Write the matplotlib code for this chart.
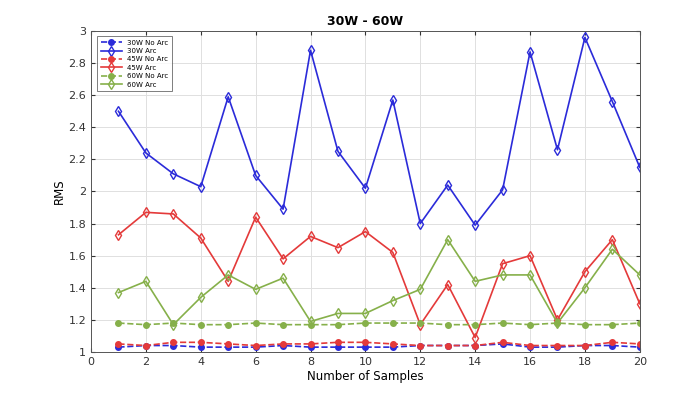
import matplotlib
matplotlib.use("Agg")
import matplotlib.pyplot as plt
import numpy as np

samples = np.arange(1, 21)

w30_no_arc = [1.03, 1.04, 1.04, 1.03, 1.03, 1.03, 1.04, 1.03, 1.03, 1.03,
              1.03, 1.04, 1.04, 1.04, 1.05, 1.03, 1.03, 1.04, 1.04, 1.03]
w30_arc = [2.50, 2.24, 2.11, 2.03, 2.59, 2.10, 1.89, 2.88, 2.25, 2.02,
           2.57, 1.80, 2.04, 1.79, 2.01, 2.87, 2.26, 2.96, 2.56, 2.15]
w45_no_arc = [1.05, 1.04, 1.06, 1.06, 1.05, 1.04, 1.05, 1.05, 1.06, 1.06,
              1.05, 1.04, 1.04, 1.04, 1.06, 1.04, 1.04, 1.04, 1.06, 1.05]
w45_arc = [1.73, 1.87, 1.86, 1.71, 1.44, 1.84, 1.58, 1.72, 1.65, 1.75,
           1.62, 1.17, 1.42, 1.09, 1.55, 1.60, 1.20, 1.50, 1.70, 1.30]
w60_no_arc = [1.18, 1.17, 1.18, 1.17, 1.17, 1.18, 1.17, 1.17, 1.17, 1.18,
              1.18, 1.18, 1.17, 1.17, 1.18, 1.17, 1.18, 1.17, 1.17, 1.18]
w60_arc = [1.37, 1.44, 1.17, 1.34, 1.48, 1.39, 1.46, 1.19, 1.24, 1.24,
           1.32, 1.39, 1.70, 1.44, 1.48, 1.48, 1.18, 1.40, 1.64, 1.48]

blue = "#2b2bd9"
red = "#e43a3a"
green = "#86b04a"

fig = plt.figure(figsize=(7, 3.95), dpi=100)
ax = fig.add_axes([0.13, 0.109, 0.784, 0.8125])

# sin arco: línea discontinua, marcador relleno
ax.plot(samples, w30_no_arc, "--o", color=blue, ms=4, lw=1.2, label="30W No Arc")
ax.plot(samples, w30_arc, "-d", color=blue, mfc="none", ms=5, lw=1.2, label="30W Arc")
ax.plot(samples, w45_no_arc, "--o", color=red, ms=4, lw=1.2, label="45W No Arc")
ax.plot(samples, w45_arc, "-d", color=red, mfc="none", ms=5, lw=1.2, label="45W Arc")
ax.plot(samples, w60_no_arc, "--o", color=green, ms=4, lw=1.2, label="60W No Arc")
ax.plot(samples, w60_arc, "-d", color=green, mfc="none", ms=5, lw=1.2, label="60W Arc")

ax.set_xlim(0, 20)
ax.set_ylim(1, 3)
ax.set_xticks(np.arange(0, 21, 2))
ax.set_yticks(np.arange(1, 3.01, 0.2))
ax.set_yticklabels(["1", "1.2", "1.4", "1.6", "1.8", "2", "2.2", "2.4", "2.6", "2.8", "3"])
ax.tick_params(direction="in", labelsize=8, top=True, right=True, length=3, colors="#333333")
ax.grid(True, color="#e0e0e0", lw=0.7)
for s in ax.spines.values():
    s.set_color("#555555")
    s.set_linewidth(0.7)

ax.set_xlabel("Number of Samples", fontsize=8.5, labelpad=2)
ax.set_ylabel("RMS", fontsize=8.5, labelpad=2)
ax.set_title("30W - 60W", fontsize=9, fontweight="bold", pad=4)

leg = ax.legend(loc="upper left", fontsize=5, frameon=True, fancybox=False,
                edgecolor="#444444", handlelength=3, borderpad=0.5, labelspacing=0.35,
                bbox_to_anchor=(0.005, 0.995))
leg.get_frame().set_linewidth(0.6)

fig.savefig("out.png", dpi=100)
